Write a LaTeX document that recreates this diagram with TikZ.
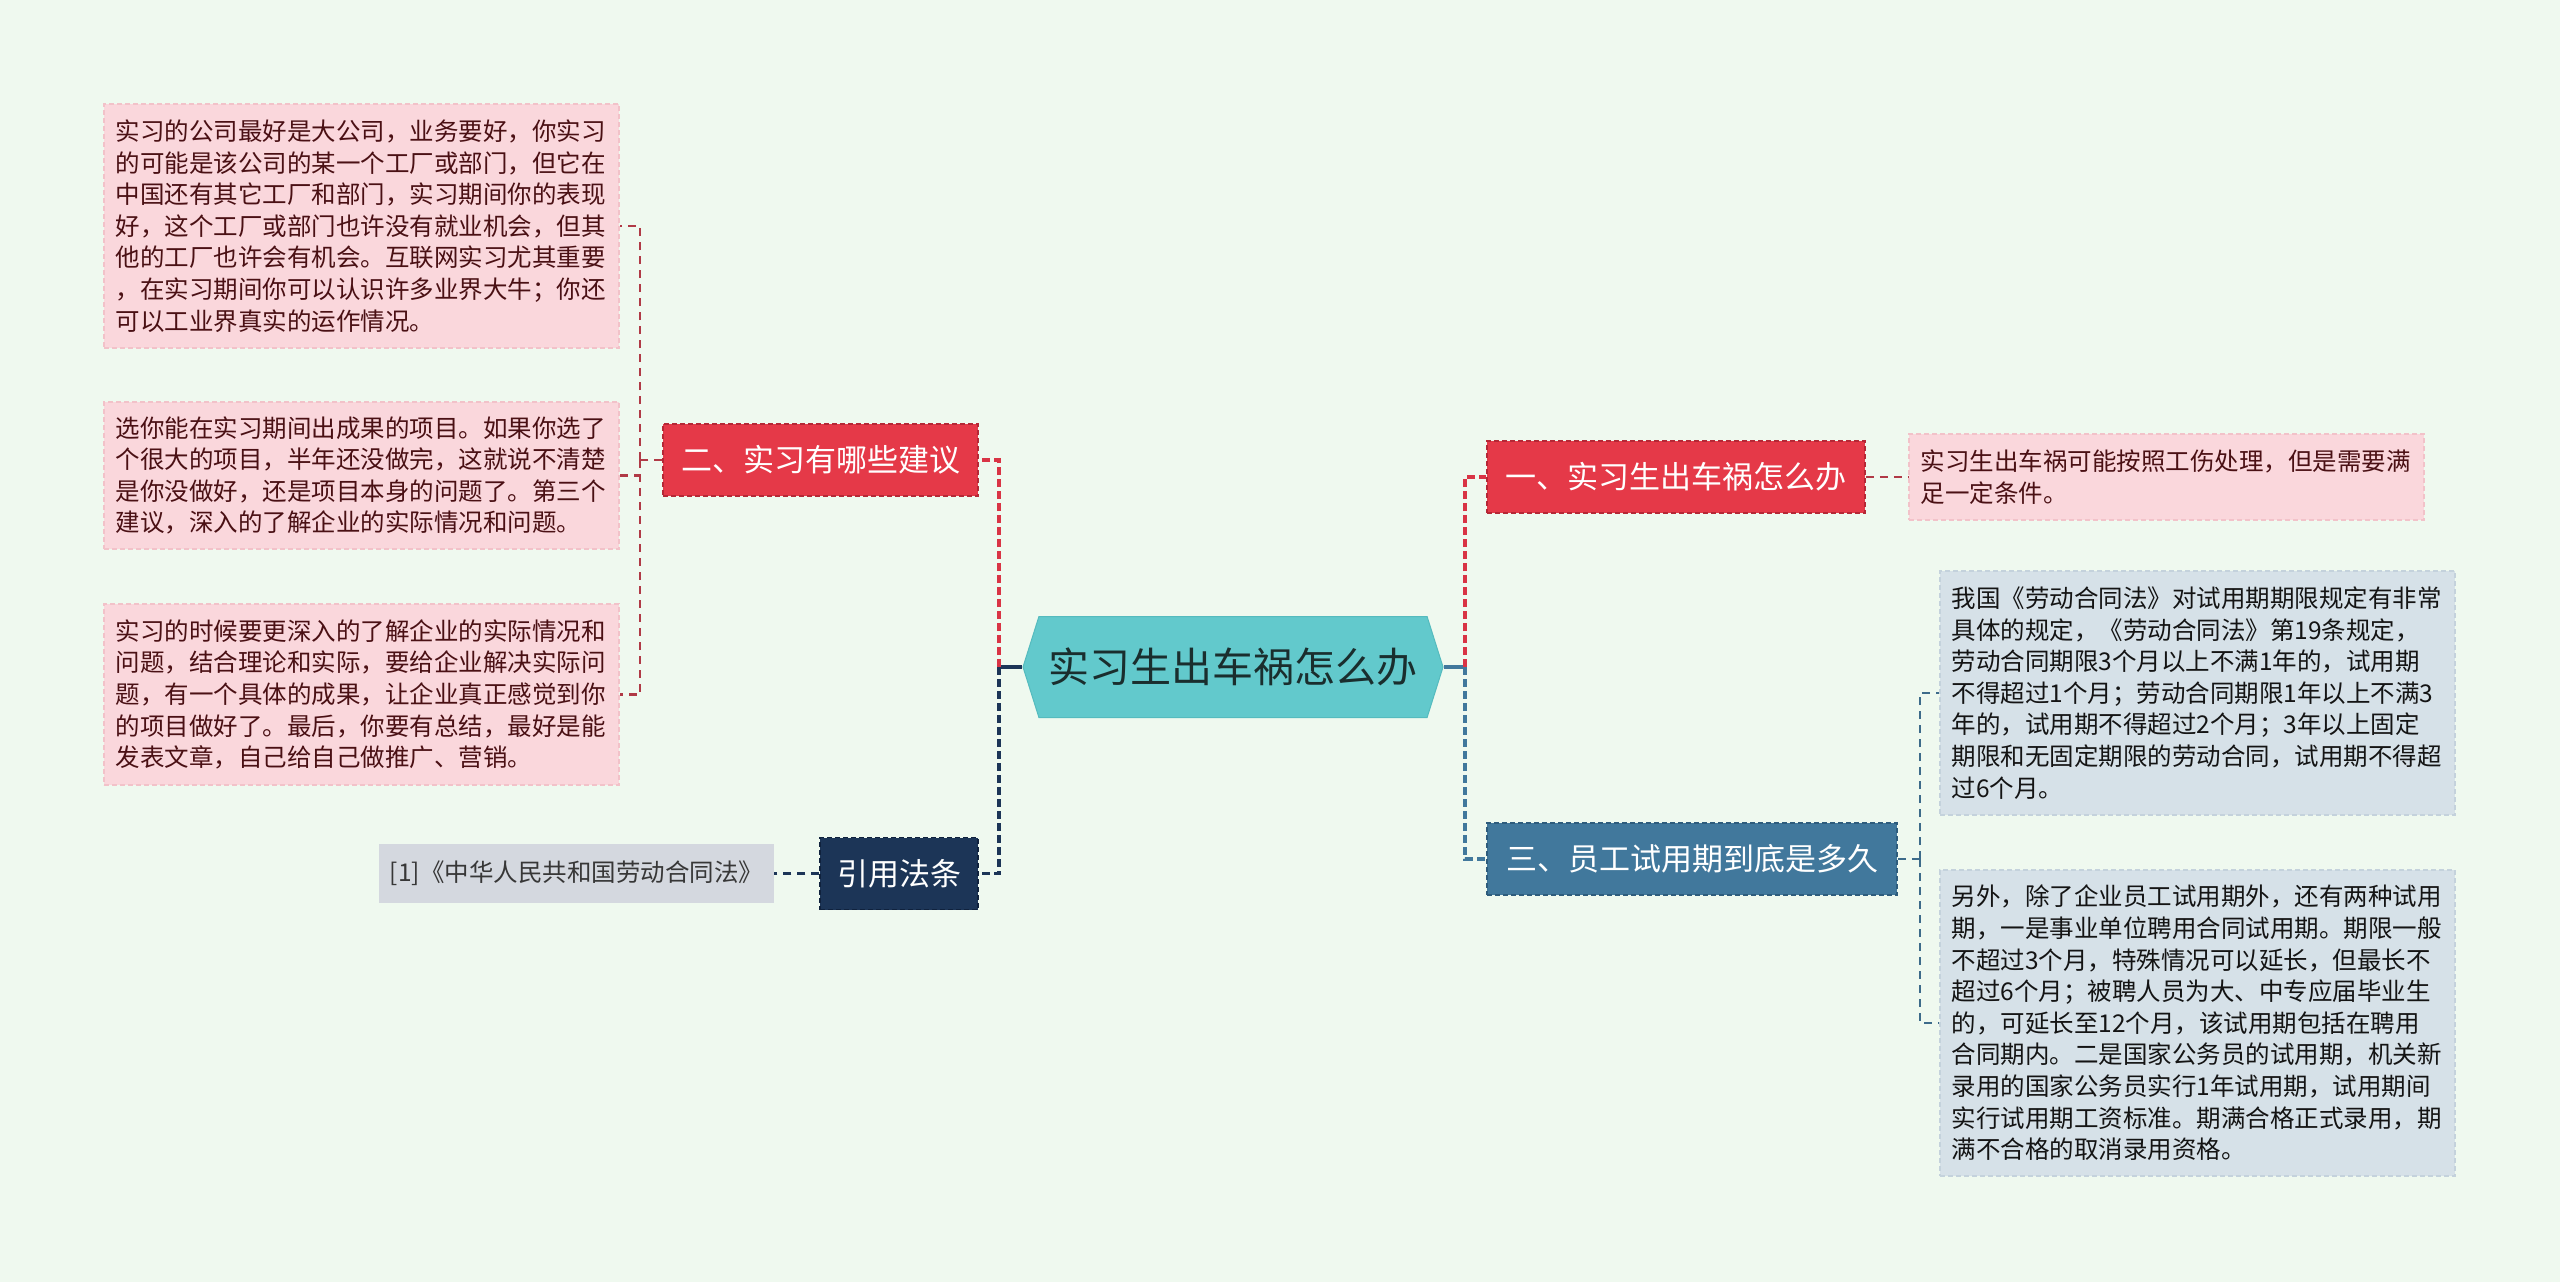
\documentclass[tikz,border=0pt]{standalone}
\usepackage{fontspec}
\newfontfamily\cjk{Noto Sans CJK SC}
\usepackage{tikz}
\usetikzlibrary{shapes.symbols}

\definecolor{cBg}{HTML}{EFF9EF}
\definecolor{cTeal}{HTML}{62C9CC}
\definecolor{cTealEdge}{HTML}{55BBBE}
\definecolor{cRootText}{HTML}{1A2E2E}
\definecolor{cRed}{HTML}{E53948}
\definecolor{cRedEdge}{HTML}{B52836}
\definecolor{cSteel}{HTML}{41789C}
\definecolor{cSteelEdge}{HTML}{2E5C7C}
\definecolor{cNavy}{HTML}{1C3557}
\definecolor{cNavyEdge}{HTML}{10223D}
\definecolor{cPink}{HTML}{FAD7DC}
\definecolor{cPinkEdge}{HTML}{F2C2C9}
\definecolor{cPinkText}{HTML}{4A1014}
\definecolor{cBlueGrey}{HTML}{D6E1E8}
\definecolor{cBlueEdge}{HTML}{C4D2DC}
\definecolor{cGrey}{HTML}{D4D8DF}
\definecolor{cDark}{HTML}{141414}
\definecolor{cLinkRed}{HTML}{D93445}
\definecolor{cTwigRed}{HTML}{B03A46}
\definecolor{cTwigSteel}{HTML}{3D6B8A}

\tikzset{
  leafbox/.style={rectangle, line width=1.5pt, dash pattern=on 5pt off 3pt,
    text width=492pt, inner xsep=11.5pt, inner ysep=0pt, align=left,
    font=\cjk\fontsize{24.5}{31.6}\selectfont},
  pinkleaf/.style={leafbox, draw=cPinkEdge, fill=cPink, text=cPinkText},
  blueleaf/.style={leafbox, draw=cBlueEdge, fill=cBlueGrey, text=cDark},
  branch/.style={rectangle, line width=1.5pt, dash pattern=on 5pt off 3pt,
    minimum height=72pt, inner sep=0pt, text=white,
    font=\cjk\fontsize{31}{36}\selectfont},
  trunk/.style={line width=3.8pt, dash pattern=on 8pt off 4pt},
  twig/.style={line width=2.4pt, dash pattern=on 8pt off 6pt},
  stem/.style={line width=3.8pt}
}

\begin{document}
\begin{tikzpicture}[x=1pt, y=-1pt]
    \fill[cBg] (0,0) rectangle (2560,1282);

    \node[shape=signal, signal to=west and east, signal pointer angle=145,
      fill=cTeal, draw=cTealEdge, line width=1pt, inner sep=0pt,
      minimum width=420pt, minimum height=101pt, text=cRootText,
      font=\cjk\fontsize{41}{48}\selectfont] (root) at (1233,667) {实习生出车祸怎么办};

    \node[branch, draw=cRedEdge, fill=cRed, minimum width=315pt] (advice) at (820.5,460) {二、实习有哪些建议};
    \node[branch, draw=cNavyEdge, fill=cNavy, minimum width=158pt] (law) at (899,873.5) {引用法条};
    \node[branch, draw=cRedEdge, fill=cRed, minimum width=378pt] (accident) at (1676,477) {一、实习生出车祸怎么办};
    \node[branch, draw=cSteelEdge, fill=cSteel, minimum width=410pt] (trial) at (1692,859) {三、员工试用期到底是多久};

    \node[pinkleaf, minimum height=244pt] (adv1) at (361.5,226) {实习的公司最好是大公司，业务要好，你实习\\的可能是该公司的某一个工厂或部门，但它在\\中国还有其它工厂和部门，实习期间你的表现\\好，这个工厂或部门也许没有就业机会，但其\\他的工厂也许会有机会。互联网实习尤其重要\\，在实习期间你可以认识许多业界大牛；你还\\可以工业界真实的运作情况。};
    \node[pinkleaf, minimum height=147pt] (adv2) at (361.5,475.5) {选你能在实习期间出成果的项目。如果你选了\\个很大的项目，半年还没做完，这就说不清楚\\是你没做好，还是项目本身的问题了。第三个\\建议，深入的了解企业的实际情况和问题。};
    \node[pinkleaf, minimum height=181pt] (adv3) at (361.5,694.5) {实习的时候要更深入的了解企业的实际情况和\\问题，结合理论和实际，要给企业解决实际问\\题，有一个具体的成果，让企业真正感觉到你\\的项目做好了。最后，你要有总结，最好是能\\发表文章，自己给自己做推广、营销。};
    \node[rectangle, fill=cGrey, minimum width=395pt, minimum height=59pt, inner sep=0pt,
      text=cDark!85, font=\cjk\fontsize{24.5}{30}\selectfont] (cite) at (576.5,873.5) {[1]《中华人民共和国劳动合同法》};

    \node[pinkleaf, minimum height=86pt] (acc1) at (2166.5,477) {实习生出车祸可能按照工伤处理，但是需要满\\足一定条件。};
    \node[blueleaf, minimum height=244pt] (trial1) at (2197.5,693) {我国《劳动合同法》对试用期期限规定有非常\\具体的规定，《劳动合同法》第19条规定，\\劳动合同期限3个月以上不满1年的，试用期\\不得超过1个月；劳动合同期限1年以上不满3\\年的，试用期不得超过2个月；3年以上固定\\期限和无固定期限的劳动合同，试用期不得超\\过6个月。};
    \node[blueleaf, minimum height=306pt] (trial2) at (2197.5,1023) {另外，除了企业员工试用期外，还有两种试用\\期，一是事业单位聘用合同试用期。期限一般\\不超过3个月，特殊情况可以延长，但最长不\\超过6个月；被聘人员为大、中专应届毕业生\\的，可延长至12个月，该试用期包括在聘用\\合同期内。二是国家公务员的试用期，机关新\\录用的国家公务员实行1年试用期，试用期间\\实行试用期工资标准。期满合格正式录用，期\\满不合格的取消录用资格。};

    \coordinate (lspine) at (999,667);
    \coordinate (rspine) at (1465,667);
    \coordinate (advspine) at (640,460);
    \coordinate (trialspine) at (1920,859);

    \draw[stem, cNavy] (root.west) -- (lspine);
    \draw[stem, cSteel] (root.east) -- (rspine);
    \draw[trunk, cLinkRed] (lspine) |- (advice.east);
    \draw[trunk, cNavy] (lspine) |- (law.east);
    \draw[trunk, cLinkRed] (rspine) |- (accident.west);
    \draw[trunk, cSteel] (rspine) |- (trial.west);

    % 分支到叶子
    \draw[twig, cTwigRed] (advice.west) -- (advspine);
    \draw[twig, cTwigRed] (advspine) |- (adv1.east);
    \draw[twig, cTwigRed] (advspine) |- (adv2.east);
    \draw[twig, cTwigRed] (advspine) |- (adv3.east);
    \draw[twig, cNavy] (law.west) -- (cite.east);
    \draw[twig, cTwigRed] (accident.east) -- (acc1.west);
    \draw[twig, cTwigSteel] (trial.east) -- (trialspine);
    \draw[twig, cTwigSteel] (trialspine) |- (trial1.west);
    \draw[twig, cTwigSteel] (trialspine) |- (trial2.west);
\end{tikzpicture}
\end{document}
